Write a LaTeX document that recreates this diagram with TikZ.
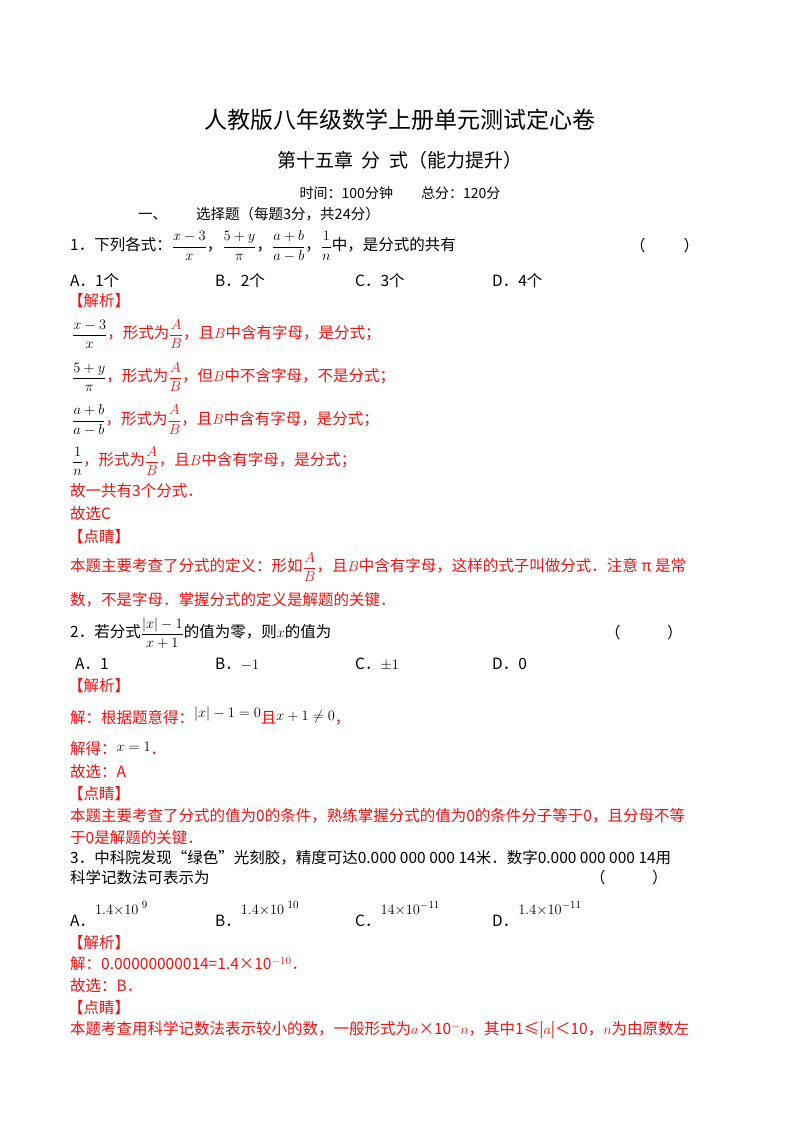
\documentclass[tikz,border=0pt]{standalone}
\usepackage{fontspec}
\setmainfont{Liberation Serif}
\newfontfamily\cjk{Noto Sans CJK SC}
\definecolor{rd}{RGB}{235,20,20}
\tikzset{t/.style={anchor=west,inner sep=0pt,font=\fontsize{15.5}{17}\selectfont\cjk},
  r/.style={t,text=rd},
  c/.style={anchor=center,inner sep=0pt,font=\fontsize{15.5}{17}\selectfont\cjk}}
\newcommand\fr[2]{$\displaystyle\frac{#1}{#2}$}
\begin{document}
\begin{tikzpicture}[x=1pt,y=-1pt]
\useasboundingbox[fill=white] (0,0) rectangle (800,1132);
\node[c,font=\fontsize{23}{25}\selectfont\cjk] (ti) at (400,120) {人教版八年级数学上册单元测试定心卷};
\node[c,font=\fontsize{19}{21}\selectfont\cjk] (st) at (400,160) {第十五章\ \ 分\ \ 式（能力提升）};
\node[c,font=\fontsize{14}{16}\selectfont\cjk] (tm) at (400,193) {时间：100分钟\qquad 总分：120分};
\node[t,font=\fontsize{14.5}{16}\selectfont\cjk] (s1) at (138,214) {一、\qquad 选择题（每题3分，共24分）};
\node[t] (q1) at (70,246) {1．下列各式：\fr{x-3}{x}，\fr{5+y}{\pi}，\fr{a+b}{a-b}，\fr{1}{n}中，是分式的共有};
\node[t] (p1) at (630,246) {（\qquad\ \ ）};
\node[t] (a1) at (70,281) {A．1个};
\node[t] (b1) at (215,281) {B．2个};
\node[t] (c1) at (355,281) {C．3个};
\node[t] (d1) at (492,281) {D．4个};
\node[r] (j1) at (68,301) {【解析】};
\node[r] (l1) at (72,334) {\color{black}\fr{x-3}{x}\color{rd}，形式为\fr{A}{B}，且$B$中含有字母，是分式；};
\node[r] (l2) at (72,377) {\color{black}\fr{5+y}{\pi}\color{rd}，形式为\fr{A}{B}，但$B$中不含字母，不是分式；};
\node[r] (l3) at (72,420) {\color{black}\fr{a+b}{a-b}\color{rd}，形式为\fr{A}{B}，且$B$中含有字母，是分式；};
\node[r] (l4) at (72,461) {\color{black}\fr{1}{n}\color{rd}，形式为\fr{A}{B}，且$B$中含有字母，是分式；};
\node[r] (l5) at (70,491) {故一共有3个分式．};
\node[r] (l6) at (70,514) {故选C};
\node[r] (dj1) at (68,537) {【点睛】};
\node[r] (l7) at (70,567) {本题主要考查了分式的定义：形如\fr{A}{B}，且$B$中含有字母，这样的式子叫做分式．注意 π 是常};
\node[r] (l8) at (70,600) {数，不是字母．掌握分式的定义是解题的关键．};
\node[t] (q2) at (70,633) {2．若分式\fr{|x|-1}{x+1}的值为零，则$x$的值为};
\node[t] (p2) at (605,633) {（\qquad\quad ）};
\node[t] (a2) at (75,664) {A．1};
\node[t] (b2) at (215,664) {B．$-1$};
\node[t] (c2) at (355,664) {C．$\pm1$};
\node[t] (d2) at (492,664) {D．0};
\node[r] (j2) at (68,686) {【解析】};
\node[r] (m1) at (70,716) {解：根据题意得：\raisebox{6pt}{\color{black}$|x|-1=0$}且\raisebox{3pt}{\color{black}$x+1\neq0$}，};
\node[r] (m2) at (70,749) {解得：\raisebox{3pt}{\color{black}$x=1$}．};
\node[r] (m3) at (70,772) {故选：A};
\node[r] (dj2) at (68,794) {【点睛】};
\node[r] (m4) at (70,816) {本题主要考查了分式的值为0的条件，熟练掌握分式的值为0的条件分子等于0，且分母不等};
\node[r] (m5) at (70,838) {于0是解题的关键．};
\node[t] (q3) at (70,858) {3．中科院发现“绿色”光刻胶，精度可达0.000 000 000 14米．数字0.000 000 000 14用};
\node[t] (q3b) at (70,878) {科学记数法可表示为};
\node[t] (p3) at (590,878) {（\qquad\quad ）};
\node[t] (a3) at (70,914) {A．\raisebox{12pt}{$1.4{\times}10^{\ 9}$}};
\node[t] (b3) at (215,914) {B．\raisebox{12pt}{$1.4{\times}10^{\ 10}$}};
\node[t] (c3) at (355,914) {C．\raisebox{12pt}{$14{\times}10^{-11}$}};
\node[t] (d3) at (492,914) {D．\raisebox{12pt}{$1.4{\times}10^{-11}$}};
\node[r] (j3) at (68,943) {【解析】};
\node[r] (n1) at (70,964) {解：0.00000000014=1.4×10$^{-10}$．};
\node[r] (n2) at (70,986) {故选：B．};
\node[r] (dj3) at (68,1008) {【点睛】};
\node[r] (n3) at (70,1030) {本题考查用科学记数法表示较小的数，一般形式为$a$×10$^{-}$$n$，其中1≤|$a$|＜10，$n$为由原数左};
\end{tikzpicture}
\end{document}
